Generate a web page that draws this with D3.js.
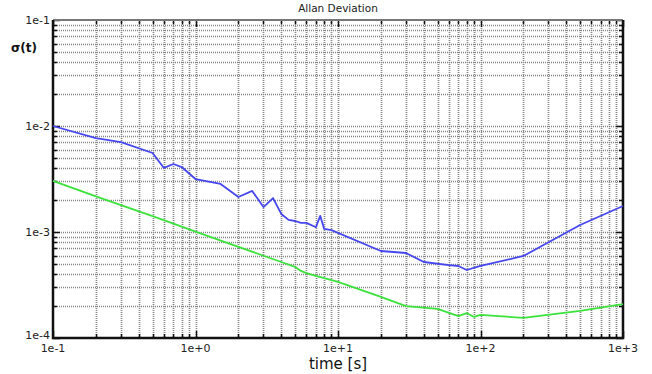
<!DOCTYPE html>
<html>
<head>
<meta charset="utf-8">
<script src="https://cdn.jsdelivr.net/npm/d3@7"></script>
<style>
  html, body { margin: 0; padding: 0; background: #fff; }
  svg { display: block; font-family: "DejaVu Sans", sans-serif; }
</style>
</head>
<body>
<svg id="chart" width="652" height="374"></svg>
<script>
// Averaging times (s) and Allan deviation of the measured signal
const tauMeasured = [0.1, 0.2, 0.3, 0.5, 0.6, 0.7, 0.8, 1, 1.5, 2, 2.5, 3, 3.5, 4, 4.5, 5, 5.5, 6, 7, 7.5, 8, 9,
  20, 30, 40, 60, 70, 80, 100, 200, 500, 1000];
const adevMeasured = [0.0100, 0.0077, 0.00706, 0.00556, 0.00402, 0.00438, 0.0041, 0.00316, 0.00284, 0.00214,
  0.00244, 0.00172, 0.00209, 0.00148, 0.0013, 0.00127, 0.00122, 0.00122, 0.00111, 0.00142, 0.00107, 0.00104,
  0.000662, 0.000634, 0.000521, 0.000488, 0.000478, 0.000438, 0.000478, 0.000594, 0.001164, 0.00176];

// Averaging times (s) and Allan deviation of the reference signal
const tauReference = [0.1, 0.2, 0.3, 0.5, 0.7, 1, 2, 3, 4, 5, 5.5, 6, 7, 10, 20, 30, 50, 70, 80, 90, 100, 200, 500, 1000];
const adevReference = [0.00303, 0.00217, 0.00179, 0.00141, 0.0012, 0.00101, 0.000725, 0.000597, 0.000521,
  0.000468, 0.000429, 0.00041, 0.000385, 0.000338, 0.000244, 0.0002, 0.000188, 0.000161, 0.000172, 0.000158,
  0.000165, 0.000155, 0.00018, 0.000209];

// Axis tick labels
const xTickValues = [0.1, 1, 10, 100, 1000];
const xTickLabels = ["1e-1", "1e+0", "1e+1", "1e+2", "1e+3"];
const yTickValues = [0.1, 0.01, 0.001, 0.0001];
const yTickLabels = ["1e-1", "1e-2", "1e-3", "1e-4"];

const svg = d3.select("#chart");
const plotLeft = 53, plotRight = 623, plotTop = 20, plotBottom = 338;

const x = d3.scaleLog().domain([0.1, 1000]).range([plotLeft, plotRight]);
const y = d3.scaleLog().domain([0.0001, 0.1]).range([plotBottom, plotTop]);

// Minor positions (1..9 per decade)
function decadeSteps(lo, hi) {
  const out = [];
  for (let e = Math.round(Math.log10(lo)); e < Math.round(Math.log10(hi)); e++) {
    for (let m = 1; m <= 9; m++) out.push(m * Math.pow(10, e));
  }
  out.push(hi);
  return out;
}
const xSteps = decadeSteps(0.1, 1000);
const ySteps = decadeSteps(0.0001, 0.1);
const isMajor = v => Math.abs(Math.log10(v) - Math.round(Math.log10(v))) < 1e-9;

// Dotted grid
const grid = svg.append("g").attr("stroke", "#858585").attr("stroke-width", 1.7)
  .attr("stroke-dasharray", "1,1").attr("fill", "none");
grid.selectAll("line.v").data(xSteps.filter(v => v > 0.1 && v < 1000)).join("line")
  .attr("class", "v")
  .attr("x1", d => Math.round(x(d)) + 0.5).attr("x2", d => Math.round(x(d)) + 0.5)
  .attr("y1", plotTop).attr("y2", plotBottom);
grid.selectAll("line.h").data(ySteps.filter(v => v > 0.0001 && v < 0.1)).join("line")
  .attr("class", "h")
  .attr("y1", d => Math.round(y(d)) + 0.5).attr("y2", d => Math.round(y(d)) + 0.5)
  .attr("x1", plotLeft).attr("x2", plotRight);

// Inward tick marks on all four sides
const ticks = svg.append("g").attr("stroke", "#111").attr("stroke-width", 1.5);
xSteps.forEach(v => {
  const len = isMajor(v) ? 7 : 4;
  const px = Math.round(x(v)) + 0.5;
  ticks.append("line").attr("x1", px).attr("x2", px).attr("y1", plotBottom).attr("y2", plotBottom - len);
  ticks.append("line").attr("x1", px).attr("x2", px).attr("y1", plotTop).attr("y2", plotTop + len);
});
ySteps.forEach(v => {
  const len = isMajor(v) ? 7 : 4;
  const py = Math.round(y(v)) + 0.5;
  ticks.append("line").attr("y1", py).attr("y2", py).attr("x1", plotLeft).attr("x2", plotLeft + len);
  ticks.append("line").attr("y1", py).attr("y2", py).attr("x1", plotRight).attr("x2", plotRight - len);
});

// Frame
svg.append("line").attr("x1", plotLeft).attr("x2", plotRight).attr("y1", plotTop).attr("y2", plotTop)
  .attr("stroke", "#777").attr("stroke-width", 2);
svg.append("path")
  .attr("d", `M${plotLeft},${plotTop}V${plotBottom}H${plotRight}V${plotTop}`)
  .attr("fill", "none").attr("stroke", "#111").attr("stroke-width", 2.5);

// Series
const line = d3.line().x(d => x(d[0])).y(d => y(d[1]));
svg.append("path")
  .datum(tauReference.map((t, i) => [t, adevReference[i]]))
  .attr("d", line).attr("fill", "none")
  .attr("stroke", "#3be23b").attr("stroke-width", 1.8).attr("stroke-linejoin", "round");
svg.append("path")
  .datum(tauMeasured.map((t, i) => [t, adevMeasured[i]]))
  .attr("d", line).attr("fill", "none")
  .attr("stroke", "#4646f0").attr("stroke-width", 1.8).attr("stroke-linejoin", "round");

// Tick labels
svg.append("g").selectAll("text").data(xTickValues).join("text")
  .attr("x", d => x(d)).attr("y", 352)
  .attr("text-anchor", "middle").attr("font-size", 11).attr("fill", "#222")
  .text((d, i) => xTickLabels[i]);
svg.append("g").selectAll("text").data(yTickValues).join("text")
  .attr("x", 50).attr("y", d => y(d) + (d === 0.0001 ? 1 : 4))
  .attr("text-anchor", "end").attr("font-size", 11).attr("fill", "#222")
  .text((d, i) => yTickLabels[i]);

// Titles
svg.append("text").attr("x", 338).attr("y", 12).attr("text-anchor", "middle")
  .attr("font-size", 10.5).attr("fill", "#222").text("Allan Deviation");
svg.append("text").attr("x", 338).attr("y", 369).attr("text-anchor", "middle")
  .attr("font-size", 15).attr("fill", "#111").text("time [s]");
svg.append("text").attr("x", 24).attr("y", 52).attr("text-anchor", "middle")
  .attr("font-size", 12).attr("font-weight", "bold").attr("fill", "#111").text("σ(t)");
</script>
</body>
</html>
